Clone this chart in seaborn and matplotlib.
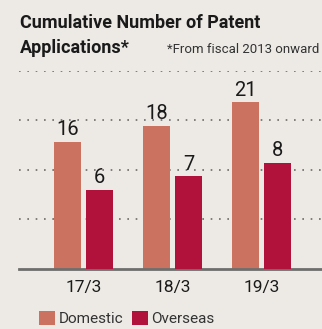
import matplotlib
matplotlib.use("Agg")
import matplotlib.pyplot as plt
from matplotlib.patches import Patch
import seaborn as sns
import pandas as pd

# Data
periods = ["17/3", "18/3", "19/3"]
domestic = [16, 18, 21]
overseas = [6, 7, 8]
series_names = ["Domestic", "Overseas"]

BG = "#EDEAE5"
C_DOM = "#CB7360"
C_OVS = "#B0123B"
FONT = ["Roboto", "DejaVu Sans"]

sns.set_style("white")
plt.rcParams["font.family"] = FONT

df = pd.DataFrame({
    "period": periods * 2,
    "count": domestic + overseas,
    "region": [series_names[0]] * len(periods) + [series_names[1]] * len(periods),
})

fig = plt.figure(figsize=(3.22, 3.29), dpi=100, facecolor=BG)
ax = fig.add_axes([19 / 322, (329 - 268.7) / 329, 303 / 322, 198 / 329])
ax.set_facecolor(BG)
# Overseas counts use their own (secondary) scale
ax2 = ax.twinx()

bar_kw = dict(data=df, x="period", y="count", hue="region", order=periods,
              hue_order=series_names, palette=[C_DOM, C_OVS], width=0.72,
              gap=0.16, saturation=1, linewidth=0, legend=False)
sns.barplot(ax=ax, **bar_kw)
sns.barplot(ax=ax2, **bar_kw)

# keep domestic bars on the primary axis, overseas bars on the secondary
for p in list(ax.containers[1]):
    p.remove()
for p in list(ax2.containers[0]):
    p.remove()

ax.set_ylim(0, 25)
ax2.set_ylim(0, 15)
for a in (ax, ax2):
    a.set_xlim(-0.728, 2.676)
    a.set_xlabel("")
    a.set_ylabel("")
    for s in ["top", "right", "left"]:
        a.spines[s].set_visible(False)
ax2.spines["bottom"].set_visible(False)
ax2.set_yticks([])
ax2.patch.set_visible(False)

ax.set_yticks([6.25, 12.5, 18.75, 25])
ax.set_yticklabels([])
ax.tick_params(axis="y", length=0)
ax.tick_params(axis="x", length=0, labelsize=12.5, colors="#1a1a1a", pad=8)
ax.yaxis.grid(True, color="#6a6a6a", linestyle=(0, (1, 4)), linewidth=1.2)
ax.set_axisbelow(True)
ax.spines["bottom"].set_color("#6e6e6e")
ax.spines["bottom"].set_linewidth(2)
ax.spines["bottom"].set_zorder(5)

ax.bar_label(ax.containers[0], fmt="%d", padding=2, fontsize=14.5,
             color="#1a1a1a", clip_on=False)
ax2.bar_label(ax2.containers[1], fmt="%d", padding=2, fontsize=14.5,
              color="#1a1a1a", clip_on=False)

handles = [Patch(facecolor=C_DOM, edgecolor="none"),
           Patch(facecolor=C_OVS, edgecolor="none")]
ax2.legend(handles, series_names, loc="lower left", bbox_to_anchor=(0.045, -0.32),
           ncol=2, frameon=False, fontsize=11, handlelength=1.05,
           handleheight=1.05, handletextpad=0.25, columnspacing=0.55,
           labelcolor="#333333", borderaxespad=0)

fig.text(20 / 322, 1 - 28 / 329, "Cumulative Number of Patent",
         fontsize=13, fontweight="bold", color="#1a1a1a", va="baseline")
fig.text(20 / 322, 1 - 53 / 329, "Applications*",
         fontsize=13, fontweight="bold", color="#1a1a1a", va="baseline")
fig.text(167 / 322, 1 - 53 / 329, "*From fiscal 2013 onward",
         fontsize=9.5, color="#333333", va="baseline")

fig.savefig("out.png", dpi=100, facecolor=BG)
